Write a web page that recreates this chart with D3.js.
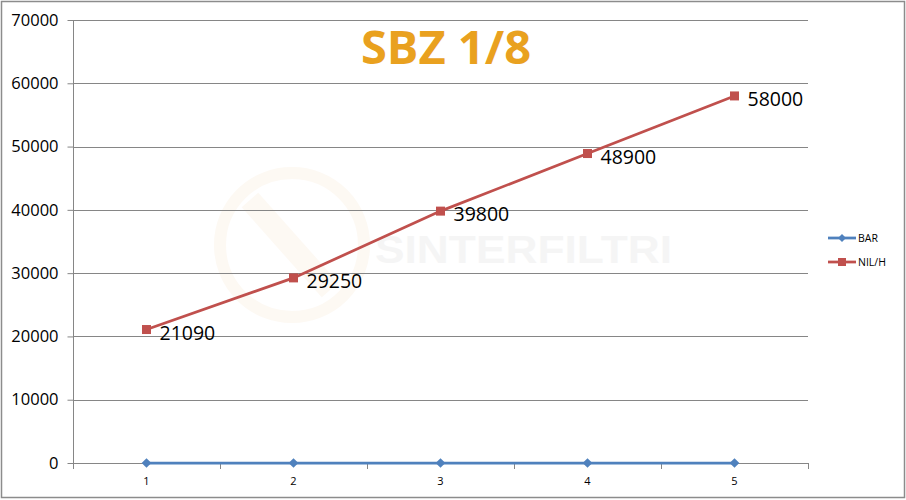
<!DOCTYPE html>
<html><head><meta charset="utf-8">
<script src="https://cdn.jsdelivr.net/npm/d3@7"></script>
<style>body{margin:0;background:#fff}svg{display:block}</style>
</head><body>
<svg id="c" width="906" height="500"></svg>
<script>
const categories = ["1","2","3","4","5"];
const barValues = [0,0,0,0,0];
const nilValues = [21090,29250,39800,48900,58000];
const yTicks = [0,10000,20000,30000,40000,50000,60000,70000];
const seriesNames = ["BAR","NIL/H"];
const titleText = "SBZ 1/8";

const svg = d3.select("#c");
const W=906,H=500;
const m={l:73,r:808,t:20,b:463};

svg.append("rect").attr("x",1.5).attr("y",1.5).attr("width",W-3).attr("height",H-4)
  .attr("fill","#fff").attr("stroke","#8c8c8c").attr("stroke-width",1.5);

// watermark
const wm = svg.append("g").attr("opacity",0.35);
wm.append("circle").attr("cx",292).attr("cy",245).attr("r",72).attr("fill","none")
  .attr("stroke","#fbeedd").attr("stroke-width",12);
wm.append("path").attr("d","M250,200 L330,290").attr("stroke","#fbeedd").attr("stroke-width",22);
wm.append("text").attr("x",375).attr("y",263).attr("font-family","Liberation Sans, Arial")
  .attr("font-weight","bold").attr("font-size",38).attr("fill","#e4e4e4").attr("textLength",297)
  .attr("lengthAdjust","spacingAndGlyphs")
  .text("SINTERFILTRI");

const x = d3.scaleBand().domain(categories).range([m.l,m.r]);
const y = d3.scaleLinear().domain([0,70000]).range([m.b,m.t]);

// gridlines
svg.append("g").selectAll("line").data(yTicks.filter(d=>d>0)).join("line")
  .attr("x1",m.l).attr("x2",m.r).attr("y1",d=>Math.round(y(d))+0.5).attr("y2",d=>Math.round(y(d))+0.5)
  .attr("stroke","#868686").attr("stroke-width",1);

// y axis
const ya = svg.append("g").attr("transform",`translate(${m.l+0.5},0)`)
  .call(d3.axisLeft(y).tickValues(yTicks).tickSize(6).tickPadding(9).tickFormat(d3.format("d")));
ya.select(".domain").attr("stroke","#868686").attr("d",`M0,${y(70000)}V${y(0)}`);
ya.selectAll(".tick line").attr("stroke","#868686");
ya.selectAll(".tick text").attr("font-family","Open Sans, sans-serif").attr("font-size",16.5).attr("fill","#000");

// x axis
const xa = svg.append("g").attr("transform",`translate(0,${Math.round(y(0))+0.5})`)
  .call(d3.axisBottom(x).tickSize(0).tickPadding(14));
xa.select(".domain").attr("stroke","#868686").attr("d",`M${m.l},0H${m.r}`);
xa.selectAll(".tick text").attr("font-family","Open Sans, sans-serif").attr("font-size",11).attr("fill","#000");
const bounds = categories.map((c,i)=>x(c)+x.bandwidth()).concat([m.l]);
svg.append("g").selectAll("line").data(bounds).join("line")
  .attr("x1",d=>Math.round(d)+0.5).attr("x2",d=>Math.round(d)+0.5)
  .attr("y1",y(0)).attr("y2",y(0)+6).attr("stroke","#868686");

const cx = c=>x(c)+x.bandwidth()/2;
const line = d3.line().x((d,i)=>cx(categories[i])).y(d=>y(d));

// NIL/H
svg.append("path").datum(nilValues).attr("d",line).attr("fill","none")
  .attr("stroke","#C0504D").attr("stroke-width",2.75);
svg.append("g").selectAll("rect").data(nilValues).join("rect")
  .attr("x",(d,i)=>cx(categories[i])-4.5).attr("y",d=>y(d)-4.5).attr("width",9).attr("height",9)
  .attr("fill","#C0504D");
svg.append("g").selectAll("text").data(nilValues).join("text")
  .attr("x",(d,i)=>cx(categories[i])+13).attr("y",d=>y(d)+10)
  .attr("font-family","Open Sans, sans-serif").attr("font-size",19.5).attr("fill","#000")
  .text(d=>d);

// BAR
svg.append("path").datum(barValues).attr("d",line).attr("fill","none")
  .attr("stroke","#4F81BD").attr("stroke-width",2.75);
const diamond = d3.symbol().type(d3.symbolDiamond2).size(60);
svg.append("g").selectAll("path").data(barValues).join("path")
  .attr("transform",(d,i)=>`translate(${cx(categories[i])},${y(d)})`).attr("d",diamond)
  .attr("fill","#4F81BD");

// title
svg.append("text").attr("x",446).attr("y",64).attr("text-anchor","middle")
  .attr("font-family","Open Sans, sans-serif").attr("font-weight","bold").attr("font-size",47)
  .attr("fill","#E9A11F").text(titleText);

// legend
const lg = svg.append("g");
const colors=["#4F81BD","#C0504D"];
seriesNames.forEach((n,i)=>{
  const ly=238+i*24;
  lg.append("line").attr("x1",828).attr("x2",856).attr("y1",ly).attr("y2",ly)
    .attr("stroke",colors[i]).attr("stroke-width",2.75);
  if(i===0) lg.append("path").attr("transform",`translate(842,${ly})`).attr("d",d3.symbol().type(d3.symbolDiamond2).size(40)).attr("fill",colors[i]);
  else lg.append("rect").attr("x",838).attr("y",ly-4).attr("width",8).attr("height",8).attr("fill",colors[i]);
  lg.append("text").attr("x",858).attr("y",ly+4).attr("font-family","Open Sans, sans-serif")
    .attr("font-size",10.5).attr("fill","#000").text(n);
});
</script>
</body></html>
